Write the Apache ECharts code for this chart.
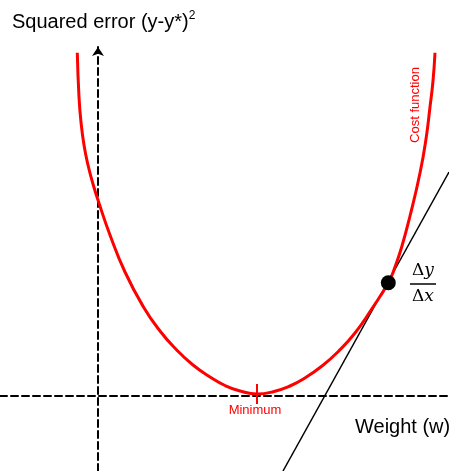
<!DOCTYPE html>
<html>
<head>
<meta charset="utf-8">
<script src="https://cdn.jsdelivr.net/npm/echarts@6/dist/echarts.min.js"></script>
<style>html,body{margin:0;padding:0;background:#fff}#c{width:449px;height:471px}</style>
</head>
<body>
<div id="c"></div>
<script>
// Cost curve (weight w, squared error e)
const costW = [-2.07, -1.9, -1.7, -1.4, -1.0, -0.5, 0.03, 1.2, 2.7, 4.53, 6.2, 7.87, 9.5, 11.2, 12.7, 14.2, 15.9,
               17.6, 19.2, 20.7, 22.4, 24.03, 25.7, 27.37, 29.03, 29.7, 30.37, 31.2, 32.2, 32.8, 33.2, 33.5, 33.7];
const costE = [34.33, 29.9, 27.4, 25.1, 23.1, 21.2, 19.5, 16.1, 12.4, 8.93, 6.5, 4.6, 3.1, 1.9, 1.05, 0.5, 0.2,
               0.45, 1.0, 1.8, 3.0, 4.45, 6.3, 8.7, 11.33, 12.9, 14.9, 18.0, 22.3, 25.7, 28.9, 31.5, 34.33];
// Tangent line at the marked point
const tangentW = [18.5, 35.1];
const tangentE = [-7.5, 22.4];
const pointW = [29.03];
const pointE = [11.33];
// Minimum marker
const minW = [15.9];
const minE = [0.2];
const minLabel = 'Minimum';

const zip = (a, b) => a.map((v, i) => [v, b[i]]);
const axisStyle = { color: '#000', width: 2, type: [7, 4] };
const mathRich = {
  d: { fontFamily: 'DejaVu Serif', fontSize: 17 },
  i: { fontFamily: 'DejaVu Serif', fontStyle: 'italic', fontSize: 17 }
};

const chart = echarts.init(document.getElementById('c'));
chart.setOption({
  animation: false,
  grid: { left: 0, right: 0, top: 47, bottom: 0 },
  xAxis: {
    type: 'value', min: -9.8, max: 35.1,
    axisLine: { show: true, onZero: true, lineStyle: axisStyle },
    axisTick: { show: false }, axisLabel: { show: false }, splitLine: { show: false }
  },
  yAxis: {
    type: 'value', min: -7.5, max: 34.9,
    axisLine: { show: true, onZero: true, symbol: ['none', 'arrow'], symbolSize: [9, 9], lineStyle: axisStyle },
    axisTick: { show: false }, axisLabel: { show: false }, splitLine: { show: false }
  },
  series: [
    {
      type: 'line', data: zip(tangentW, tangentE), showSymbol: false,
      lineStyle: { color: '#000', width: 1.5 }, z: 2
    },
    {
      type: 'line', data: zip(costW, costE), showSymbol: false, smooth: 0.5,
      lineStyle: { color: '#ff0000', width: 3 }, z: 3
    },
    {
      type: 'scatter', data: zip(pointW, pointE), symbolSize: 15,
      itemStyle: { color: '#000', opacity: 1 }, z: 5
    },
    {
      type: 'scatter', data: zip(minW, minE), symbol: 'rect', symbolSize: [2, 20],
      itemStyle: { color: '#ff0000', opacity: 1 }, z: 4,
      label: {
        show: true, position: 'bottom', distance: 0, formatter: minLabel,
        color: '#ff0000', fontSize: 13, fontFamily: 'Liberation Sans', offset: [-2, 0]
      }
    }
  ],
  graphic: [
    { type: 'text', x: 12, y: 10,
      style: { text: '{a|Squared error (y-y*)}{s|2}', fill: '#000',
        rich: { a: { fontFamily: 'Liberation Sans', fontSize: 20, lineHeight: 24 },
                s: { fontFamily: 'Liberation Sans', fontSize: 12, lineHeight: 24, verticalAlign: 'top' } } } },
    { type: 'text', x: 355, y: 417, style: { text: 'Weight (w)', fill: '#000', font: '20px "Liberation Sans"' } },
    { type: 'text', x: 415, y: 105, rotation: Math.PI / 2,
      style: { text: 'Cost function', fill: '#ff0000', font: '13px "Liberation Sans"', align: 'center', verticalAlign: 'middle' } },
    { type: 'text', x: 423, y: 271,
      style: { text: '{d|Δ}{i|y}', align: 'center', verticalAlign: 'middle', fill: '#000', rich: mathRich } },
    { type: 'line', shape: { x1: 410, y1: 284, x2: 436, y2: 284 }, style: { stroke: '#000', lineWidth: 1.5 } },
    { type: 'text', x: 423, y: 297,
      style: { text: '{d|Δ}{i|x}', align: 'center', verticalAlign: 'middle', fill: '#000', rich: mathRich } }
  ]
});
</script>
</body>
</html>
